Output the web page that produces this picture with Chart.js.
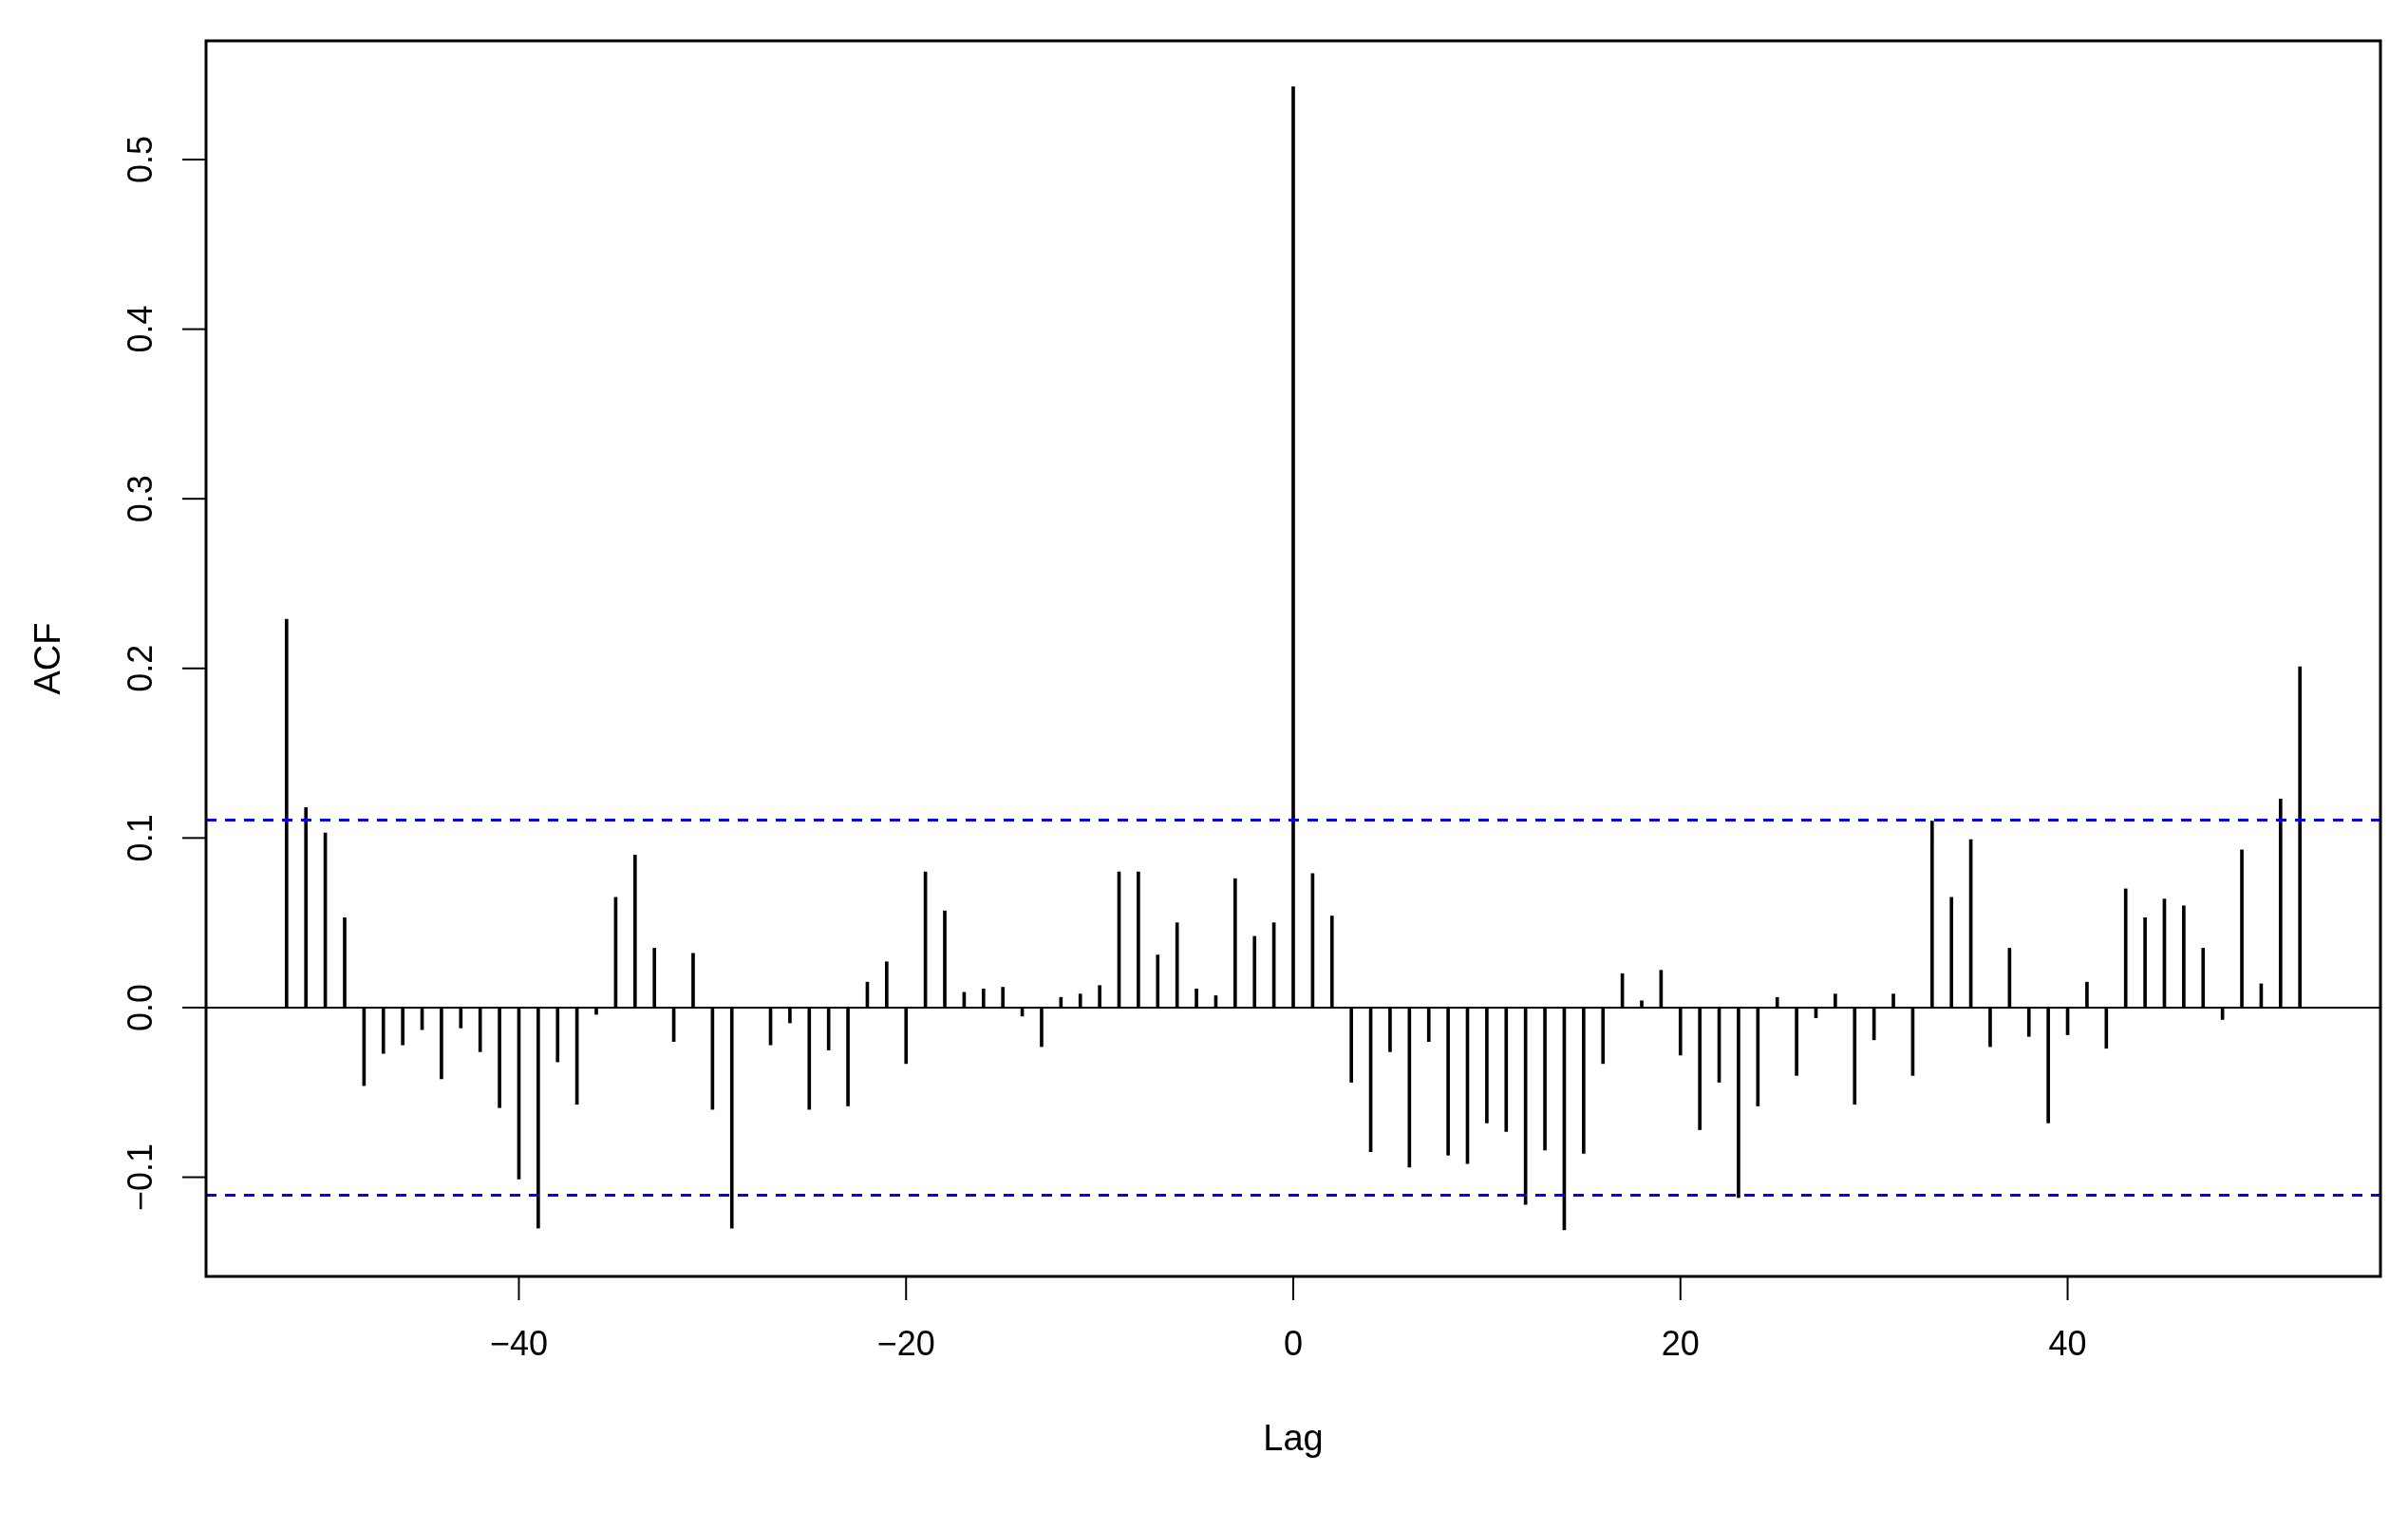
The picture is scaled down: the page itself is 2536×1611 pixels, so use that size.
<!DOCTYPE html>
<html>
<head>
<meta charset="utf-8">
<script src="https://cdn.jsdelivr.net/npm/chart.js@4/dist/chart.umd.min.js"></script>
<style>
  html, body { margin: 0; padding: 0; background: #ffffff; }
  #wrap { width: 2536px; height: 1611px; position: relative; }
</style>
</head>
<body>
<div id="wrap"><canvas id="c" width="2536" height="1611"></canvas></div>
<script>
const lags = [];
for (let k = -52; k <= 52; k++) lags.push(k);

const acfValues = [
  0.229, 0.118, 0.103, 0.053, -0.046, -0.027, -0.022, -0.013, -0.042, -0.012,
  -0.026, -0.059, -0.101, -0.130, -0.032, -0.057, -0.004, 0.065, 0.090, 0.035,
  -0.020, 0.032, -0.060, -0.130, 0.000, -0.022, -0.009, -0.060, -0.025, -0.058,
  0.015, 0.027, -0.033, 0.080, 0.057, 0.009, 0.011, 0.012, -0.005, -0.023,
  0.006, 0.008, 0.013, 0.080, 0.080, 0.031, 0.050, 0.011, 0.007, 0.076,
  0.042, 0.050, 0.543, 0.079, 0.054, -0.044, -0.085, -0.026, -0.094, -0.020,
  -0.087, -0.092, -0.068, -0.073, -0.116, -0.084, -0.131, -0.086, -0.033, 0.020,
  0.004, 0.022, -0.028, -0.072, -0.044, -0.112, -0.058, 0.006, -0.040, -0.006,
  0.008, -0.057, -0.019, 0.008, -0.040, 0.110, 0.065, 0.099, -0.023, 0.035,
  -0.017, -0.068, -0.016, 0.015, -0.024, 0.070, 0.053, 0.064, 0.060, 0.035,
  -0.007, 0.093, 0.014, 0.123, 0.201
];

const ciLevel = 0.1106;

const xTickValues = [-40, -20, 0, 20, 40];
const xTickLabels = ["\u221240", "\u221220", "0", "20", "40"];
const yTickValues = [-0.1, 0.0, 0.1, 0.2, 0.3, 0.4, 0.5];
const yTickLabels = ["\u22120.1", "0.0", "0.1", "0.2", "0.3", "0.4", "0.5"];

const xTitle = "Lag";
const yTitle = "ACF";

const points = lags.map((k, i) => ({ x: k, y: acfValues[i] }));

const FONT = '"Liberation Sans", Arial, Helvetica, sans-serif';

const rAxes = {
  id: 'rAxes',
  afterDatasetsDraw(chart) {
    const ctx = chart.ctx;
    const a = chart.chartArea;
    const xs = chart.scales.x, ys = chart.scales.y;
    ctx.save();
    // zero line
    const y0 = ys.getPixelForValue(0);
    ctx.strokeStyle = '#000';
    ctx.lineWidth = 2;
    ctx.beginPath();
    ctx.moveTo(a.left, y0); ctx.lineTo(a.right, y0);
    ctx.stroke();
    // confidence bands
    ctx.strokeStyle = '#0000ff';
    ctx.lineWidth = 3;
    ctx.setLineDash([11, 9]);
    [ciLevel, -ciLevel].forEach(v => {
      const yy = ys.getPixelForValue(v);
      ctx.beginPath();
      ctx.moveTo(a.left, yy); ctx.lineTo(a.right, yy);
      ctx.stroke();
    });
    ctx.setLineDash([]);
    // box
    ctx.strokeStyle = '#000';
    ctx.lineWidth = 3;
    ctx.strokeRect(a.left, a.top, a.right - a.left, a.bottom - a.top);
    // x ticks
    ctx.lineWidth = 2;
    ctx.fillStyle = '#000';
    ctx.font = '36px ' + FONT;
    ctx.textAlign = 'center';
    ctx.textBaseline = 'alphabetic';
    xTickValues.forEach((v, i) => {
      const px = xs.getPixelForValue(v);
      ctx.beginPath();
      ctx.moveTo(px, a.bottom); ctx.lineTo(px, a.bottom + 25);
      ctx.stroke();
      ctx.fillText(xTickLabels[i], px, a.bottom + 83);
    });
    // y ticks
    yTickValues.forEach((v, i) => {
      const py = ys.getPixelForValue(v);
      ctx.beginPath();
      ctx.moveTo(a.left, py); ctx.lineTo(a.left - 25, py);
      ctx.stroke();
      ctx.save();
      ctx.translate(a.left - 57, py);
      ctx.rotate(-Math.PI / 2);
      ctx.fillText(yTickLabels[i], 0, 0);
      ctx.restore();
    });
    // titles
    ctx.font = '38px ' + FONT;
    ctx.fillText(xTitle, (a.left + a.right) / 2, 1527);
    ctx.save();
    ctx.translate(63, (a.top + a.bottom) / 2);
    ctx.rotate(-Math.PI / 2);
    ctx.fillText(yTitle, 0, 0);
    ctx.restore();
    ctx.restore();
  }
};

new Chart(document.getElementById('c'), {
  type: 'bar',
  data: {
    datasets: [{
      data: points,
      backgroundColor: '#000',
      borderWidth: 0,
      barThickness: 3
    }]
  },
  options: {
    responsive: false,
    animation: false,
    events: [],
    layout: { padding: { top: 43, right: 29, left: 0, bottom: 0 } },
    plugins: { legend: { display: false }, tooltip: { enabled: false }, title: { display: false } },
    scales: {
      x: {
        type: 'linear',
        min: -56.16, max: 56.16,
        offset: false,
        grid: { display: false },
        border: { display: false },
        ticks: { display: false },
        afterFit(s) { s.height = 1611 - 1344; }
      },
      y: {
        type: 'linear',
        min: -0.1585, max: 0.570,
        grid: { display: false },
        border: { display: false },
        ticks: { display: false },
        afterFit(s) { s.width = 217; }
      }
    }
  },
  plugins: [rAxes]
});
</script>
</body>
</html>
